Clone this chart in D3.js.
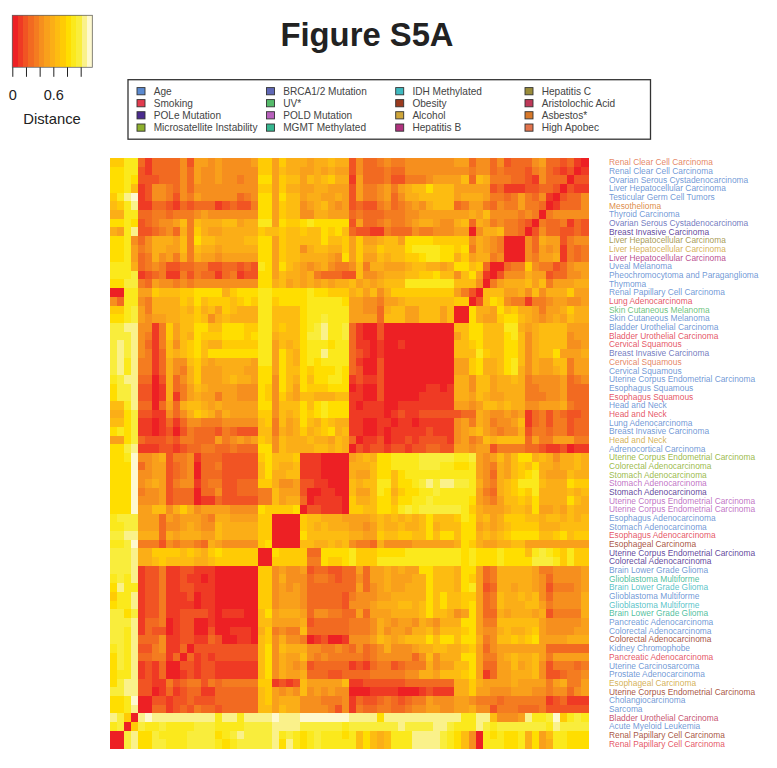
<!DOCTYPE html>
<html><head><meta charset="utf-8">
<script src="https://cdnjs.cloudflare.com/ajax/libs/d3/7.8.5/d3.min.js"></script>
<style>html,body{margin:0;padding:0;background:#fff}svg{display:block}text{font-family:"Liberation Sans",Arial,sans-serif}</style>
</head><body><svg id="c" width="777" height="768"></svg>
<script>
const title = "Figure S5A";
const signatures = ["Age","Smoking","POLe Mutation","Microsatellite Instability","BRCA1/2 Mutation","UV*","POLD Mutation","MGMT Methylated","IDH Methylated","Obesity","Alcohol","Hepatitis B","Hepatitis C","Aristolochic Acid","Asbestos*","High Apobec"];
const signatureColors = ["#5B8AD0","#E23B4E","#4A2B8E","#8DB02E","#6068B6","#55BA6A","#B860BC","#36B68F","#3FBAC0","#9B3A1E","#CFA63A","#B0327E","#9A8C3A","#BE3858","#D8792A","#E2734C"];
const rowLabels = ["Renal Clear Cell Carcinoma","Renal Clear Cell Carcinoma","Ovarian Serous Cystadenocarcinoma","Liver Hepatocellular Carcinoma","Testicular Germ Cell Tumors","Mesothelioma","Thyroid Carcinoma","Ovarian Serous Cystadenocarcinoma","Breast Invasive Carcinoma","Liver Hepatocellular Carcinoma","Liver Hepatocellular Carcinoma","Liver Hepatocellular Carcinoma","Uveal Melanoma","Pheochromocytoma and Paraganglioma","Thymoma","Renal Papillary Cell Carcinoma","Lung Adenocarcinoma","Skin Cutaneous Melanoma","Skin Cutaneous Melanoma","Bladder Urothelial Carcinoma","Bladder Urothelial Carcinoma","Cervical Squamous","Breast Invasive Carcinoma","Cervical Squamous","Cervical Squamous","Uterine Corpus Endometrial Carcinoma","Esophagus Squamous","Esophagus Squamous","Head and Neck","Head and Neck","Lung Adenocarcinoma","Breast Invasive Carcinoma","Head and Neck","Adrenocortical Carcinoma","Uterine Corpus Endometrial Carcinoma","Colorectal Adenocarcinoma","Stomach Adenocarcinoma","Stomach Adenocarcinoma","Stomach Adenocarcinoma","Uterine Corpus Endometrial Carcinoma","Uterine Corpus Endometrial Carcinoma","Esophagus Adenocarcinoma","Stomach Adenocarcinoma","Esophagus Adenocarcinoma","Esophageal Carcinoma","Uterine Corpus Endometrial Carcinoma","Colorectal Adenocarcinoma","Brain Lower Grade Glioma","Glioblastoma Multiforme","Brain Lower Grade Glioma","Glioblastoma Multiforme","Glioblastoma Multiforme","Brain Lower Grade Glioma","Pancreatic Adenocarcinoma","Colorectal Adenocarcinoma","Colorectal Adenocarcinoma","Kidney Chromophobe","Pancreatic Adenocarcinoma","Uterine Carcinosarcoma","Prostate Adenocarcinoma","Esophageal Carcinoma","Uterine Corpus Endometrial Carcinoma","Cholangiocarcinoma","Sarcoma","Bladder Urothelial Carcinoma","Acute Myeloid Leukemia","Renal Papillary Cell Carcinoma","Renal Papillary Cell Carcinoma"];
const rowSignature = ["High Apobec","Age","Age","Age","Age","Asbestos*","Age","BRCA1/2 Mutation","POLe Mutation","Hepatitis C","Alcohol","Hepatitis B","Age","Age","Age","Age","Smoking","UV*","Age","Age","Smoking","Smoking","BRCA1/2 Mutation","High Apobec","Age","Age","Age","Smoking","Age","Smoking","Age","Age","Alcohol","Age","Microsatellite Instability","Microsatellite Instability","Microsatellite Instability","POLD Mutation","POLe Mutation","POLD Mutation","POLD Mutation","Age","Age","Smoking","Obesity","POLe Mutation","POLe Mutation","Age","MGMT Methylated","IDH Methylated","Age","IDH Methylated","MGMT Methylated","Age","Age","Obesity","Age","Smoking","Age","Age","Alcohol","Obesity","Age","Age","Aristolochic Acid","Age","Obesity","Smoking"];
const distanceTicks = [0,0.2,0.4,0.6,0.8,1.0];
const tickLabels = {0:"0",0.6:"0.6"};
const bandColors = ["#ED2024","#EF3A24","#F15423","#F26A21","#F47C20","#F68F1E","#F9A01B","#FBAE17","#FDBC11","#FFCB05","#FFDE00","#FBE91C","#F9ED3C","#FAF18A","#FEF9CF"];
const maxDistance = 1.17;
// each character is one heat-map cell: the colour band (0-e, i.e. distance bin)
const distanceRows = [
"99bb313333 5266565555 6996977767 7877253345 4455555556 6355352333 56332310",
"aabb213333 5365565555 5996877667 6766253334 3355555555 5455343332 45321201",
"aaba222333 5365565545 5aa6988687 8977163334 2244456666 8387444332 15333022",
"aab8125543 5355555555 5996977667 7666264456 46788a8886 6666231112 23320211",
"9bde125542 5465555534 5aa6a88677 6676264456 3577888886 7776443464 35102335",
"89bd113321 3233312322 4aa6988567 8656232245 3456578883 4664354464 43013335",
"77bb334434 4456555555 5aa6988557 7666343334 4455666666 6768555545 40455555",
"aaba234556 8487778867 7bb6a99aba aaaa263345 4456776557 8376454432 04334132",
"76bd223453 7497667777 7988988988 a9a8322114 3335445556 6057784430 25332232",
"aab5357776 84a8877778 8aa6988888 a889696678 86aaaa9999 9576540005 37662455",
"aab6457766 8487767777 7aa6988578 8779697798 88abbbbaa9 a476540005 36561434",
"aab6347564 7476656666 6aa6988777 765a696687 8899abbaa7 9677450005 46671434",
"bbb7345422 3344223323 2ba6a87656 7544584776 667887767a a893003449 54423566",
"bbbc123411 4243313412 2aa6877674 3332285567 778899a885 8a61025557 66233556",
"aacc436554 5455555555 5aa7867676 7677867678 88bbbbbbb8 8850467778 68466677",
"00bb669888 99aaaa79aa abbaaaaaba a999786857 9999999996 4208886675 85777966",
"53bb547777 98a899989a 9bb9aaaabb bbba665546 6788888889 9028a95441 44566556",
"99bc647777 8797869877 7bb8888abb bbbb665537 8866888680 0a776a8977 64667977",
"aabc656677 8898578777 7bb8888abb cbbb666638 8866888680 0a7669aa87 65676877",
"ccdd551496 88aa88aaa9 9bb8988abc dbbc310020 0000000008 8aa888bb76 78888666",
"cccd541496 87a999aaa9 abb7888acc dbbc310020 0000000006 8aa888ab85 78888566",
"cdcd531485 89a8779999 9bb6878abb babb311010 0100000008 89a888aa85 78888556",
"cdcd541387 89a8aaaaaa abb6a87abb dbbb321010 0000000008 88b988aa85 788a6667",
"cdbd441375 5897677777 6bb6a87aba bbbb310020 0000000006 69a778ab85 76688466",
"cdbd441375 4796667776 6aa6a88a9a aaba320020 0000000006 69a778ab75 76678466",
"bcdd330273 5796667877 6aa5a87a8a abba121120 0000000007 7588677874 55556345",
"accd220173 4687666655 5a95a86a99 9aaa010020 0000011017 7588677774 45556333",
"accd220171 4676646655 5a95976887 7788110020 0000111117 7687667774 44556333",
"88bd330363 7887676666 6aa5888a8a baaa101110 0111111116 6568878775 56667433",
"77ac221153 5798757666 6995878a9a baaa111110 1211222222 3376556561 34243223",
"88ac110131 3554445555 5894867a87 9877110011 0110111115 6476455681 34244233",
"abac110120 2433324322 2884767978 9a78110010 1111121115 6786545572 44344233",
"66ac322232 4433364565 6985877787 7687301120 1121222215 6458788883 64466644",
"aacd111221 2334433433 3aa5877778 8787021221 2212233226 6566244443 32112011",
"aabe556724 4513332222 29a8889111 00006787aa bbbbcccccb bc656868aa 78757787",
"aaae356623 4503342222 28a8778111 00007778aa bbbbcccbba ab65476898 a7767787",
"aaae556623 4503332222 28a7788111 00007668aa 8abbbbbbbb bb6537689a b7666877",
"aaae567624 5513442233 3997556221 10008788bb 8aabcdcddc cb754789bb b8777a99",
"aaae455623 3303352233 3448666200 11008668ba 79aabbcbbb bb643789a9 b7777878",
"aaae555623 3301132222 2448677301 11109778aa 8aabbcbbbb ba65468898 a7777a87",
"aaae668857 9756666555 5a9999a022 11109988aa 9bcbcccccc b976667887 a6676877",
"bccc666365 6665477666 6990000988 7776666787 87878a8889 ba78679998 87887878",
"bbcc666355 6765587777 7990000987 8777665687 78778a7888 aa67678999 97778888",
"ccdd777376 7776687777 7990000a88 8888776698 89988a8aa8 aa78789aaa a889a899",
"bbce444254 5543765555 59a0000887 7878544375 5556666667 a976677886 66666666",
"cccd779999 89879a9999 900a999933 aaaab999aa aabbbbbbbb abaaabaaa8 bcba9b99",
"cccd778988 8877899999 9009999944 a99ab999bb bbbbbbbbbb abaaabaaaa cccb9b99",
"cccd122411 2211100000 0995655623 3223363667 6766aa8887 aa63477777 64455556",
"bcbd122411 2110100000 0995755534 4323353667 66677a8887 a963477777 65355556",
"adbb122411 2211100000 0995656533 3333363567 66777a8887 ab62377677 65244456",
"9bbd122411 1201100000 0995666533 3332455566 77777a8a88 9963487787 85355557",
"abbd122411 1101100000 0995666533 3332555677 78878a8a88 9a63487778 86455557",
"ccac122411 2222101110 08a6777635 5443363666 77778a8875 6a63376777 67244447",
"cccd133401 2200100000 0886666723 3333444576 5665765777 aa64488888 86555556",
"ccbd132201 2200200111 0794544833 3333444575 6657786888 9a65578778 96555566",
"ccbd333511 2211320011 0895755401 2001555687 67888a8aa8 aa74588989 a6666777",
"bcbd224511 3022222222 28a5877755 4454353457 5556778877 8963566666 66333333",
"acbd334413 0312122222 28a5766854 5444443455 5553585777 aa64467877 86466666",
"acbd121300 2212211111 18a5765623 3333121344 2344475668 8a63366867 85244434",
"abbd121300 1212211111 18a5766733 3223333444 4455776888 9a61366777 85223445",
"acdd221142 3442434444 4991212866 6668112222 2233333337 7976666766 66467446",
"ccdd220131 2331133333 3896565856 5655000111 1000121117 7966555666 55455356",
"aabe002212 2322233333 3896777555 4445132234 3234465556 6544434444 44123111",
"aabd003312 3243323333 3886877555 5425143344 3345566556 6755244433 34222222",
"dc90dedddd dddddbddbd dddedddeee eeeeddddad dddddddddd bbdd85556d bbce9bcb",
"bc09cbbcbb bbcccbbbbc cccddddccc cccbcccccc cdccccddcb bbdcbccccc ccbdcccc",
"00cdaacbbb bccccabcdc cccdbcbabc bbbab8a878 bbbddddcba 850babaab7 a68bbaaa",
"00cdaaccbb bccccbabcc cccdadbabc bbbbb8a878 bbbddddcba 850bbbaab7 a67bbaaa"
];

const svg = d3.select("#c");
const bandWidth = maxDistance / bandColors.length;
const levelToValue = ch => (parseInt(ch, 16) + 0.5) * bandWidth;
const matrix = distanceRows.map(r => Array.from(r.replace(/\s/g, "")).map(levelToValue));
const nCols = matrix[0].length, nRows = matrix.length;

const color = d3.scaleQuantize().domain([0, maxDistance]).range(bandColors);
const x = d3.scaleBand().domain(d3.range(nCols)).range([110, 588]);
const y = d3.scaleBand().domain(d3.range(nRows)).range([158, 748]);

// heat map
const g = svg.append("g").attr("shape-rendering", "crispEdges");
g.selectAll("g").data(matrix).join("g")
  .attr("transform", (d, i) => `translate(0,${y(i)})`)
  .selectAll("rect").data(d => d).join("rect")
  .attr("x", (d, j) => x(j)).attr("width", x.bandwidth() + 0.5)
  .attr("height", y.bandwidth() + 0.5).attr("fill", d => color(d));

// row labels
const sigColor = d3.scaleOrdinal().domain(signatures).range(signatureColors);
svg.append("g").selectAll("text").data(rowLabels).join("text")
  .attr("x", 609).attr("y", (d, i) => y(i) + y.bandwidth() / 2)
  .attr("dy", "0.35em").attr("font-size", 8.4).attr("fill-opacity", 0.88)
  .attr("fill", (d, i) => sigColor(rowSignature[i])).text(d => d);

// colour key
const keyX = d3.scaleLinear().domain([0, maxDistance]).range([12.3, 92.3]);
const key = svg.append("g");
key.append("g").attr("shape-rendering", "crispEdges").selectAll("rect").data(bandColors).join("rect")
  .attr("x", (d, i) => keyX(i * bandWidth)).attr("y", 15.3)
  .attr("width", keyX(bandWidth) - keyX(0) + 0.4).attr("height", 52).attr("fill", d => d);
key.append("rect").attr("x", keyX(0)).attr("y", 15.3).attr("width", 80).attr("height", 52)
  .attr("fill", "none").attr("stroke", "#666").attr("stroke-width", 0.8);
const keyAxis = d3.axisBottom(keyX).tickValues(distanceTicks).tickSize(9.5)
  .tickFormat(d => tickLabels[d] || "");
const ka = key.append("g").attr("transform", "translate(0,67.3)").call(keyAxis);
ka.select(".domain").remove();
ka.selectAll("line").attr("stroke", "#222").attr("stroke-width", 1);
ka.selectAll("text").attr("font-size", 14.5).attr("fill", "#222").attr("y", 22.5).attr("dy", "0.71em")
  .attr("font-family", '"Liberation Sans",Arial,sans-serif');
key.append("text").attr("x", 52).attr("y", 124).attr("text-anchor", "middle").attr("font-size", 14.8)
  .attr("fill", "#222").text("Distance");

// title
svg.append("text").attr("x", 367).attr("y", 46).attr("text-anchor", "middle")
  .attr("font-size", 32.8).attr("font-weight", "bold").attr("fill", "#222").text(title);

// legend
svg.append("rect").attr("x", 128).attr("y", 79.7).attr("width", 522.5).attr("height", 59.5)
  .attr("fill", "#fff").attr("stroke", "#333").attr("stroke-width", 1.3);
const colX = [137, 266.5, 395.7, 525];
const rowY = [91.2, 103.2, 115.3, 127.6];
const lg = svg.append("g").selectAll("g").data(signatures).join("g")
  .attr("transform", (d, i) => `translate(${colX[Math.floor(i / 4)]},${rowY[i % 4]})`);
lg.append("rect").attr("x", 0).attr("y", -3.6).attr("width", 8).attr("height", 7.2)
  .attr("fill", d => sigColor(d)).attr("stroke", "#333").attr("stroke-width", 0.9);
lg.append("text").attr("x", 16.7).attr("dy", "0.35em").attr("font-size", 10.1).attr("fill", "#444").text(d => d);
</script></body></html>
